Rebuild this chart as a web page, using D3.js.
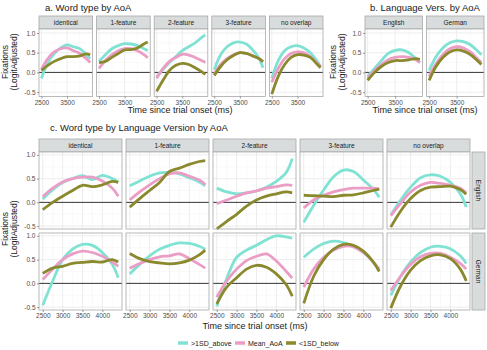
<!DOCTYPE html>
<html>
<head>
<meta charset="utf-8">
<script src="https://cdn.jsdelivr.net/npm/d3@7"></script>
<style>
body { margin: 0; background: #fff; }
svg { display: block; font-family: "Liberation Sans", Arial, sans-serif; }
</style>
</head>
<body>
<svg id="chart" width="487" height="350"></svg>
<script>
// time points (ms) shared by every smoothed curve
const xs = [2500, 2750, 3000, 3250, 3500, 3750, 4000, 4250, 4400];
const seriesNames = [">1SD_above", "Mean_AoA", "<1SD_below"];
const seriesColors = ["#7fe2d3", "#eb9dc5", "#8a892d"];
const wordTypes = ["identical", "1-feature", "2-feature", "3-feature", "no overlap"];
const languages = ["English", "German"];
const yTicks = [-0.5, 0, 0.5, 1.0];

// each array: [>1SD_above, Mean_AoA, <1SD_below]
// a. word type by AoA
const aIdentical = [
  [-0.15, 0.25, 0.48, 0.62, 0.70, 0.65, 0.60, 0.45, 0.35],
  [0.08, 0.35, 0.52, 0.60, 0.62, 0.55, 0.48, 0.35, 0.25],
  [0.05, 0.18, 0.28, 0.35, 0.40, 0.40, 0.42, 0.47, 0.44]];
const a1Feature = [
  [0.28, 0.45, 0.60, 0.68, 0.73, 0.72, 0.68, 0.60, 0.55],
  [0.10, 0.30, 0.45, 0.55, 0.60, 0.60, 0.55, 0.45, 0.37],
  [0.25, 0.28, 0.38, 0.48, 0.57, 0.58, 0.62, 0.72, 0.77]];
const a2Feature = [
  [-0.12, 0.08, 0.25, 0.40, 0.55, 0.65, 0.75, 0.88, 0.95],
  [-0.15, 0.10, 0.28, 0.38, 0.46, 0.44, 0.38, 0.30, 0.25],
  [-0.48, -0.20, 0.05, 0.18, 0.23, 0.20, 0.12, 0.02, -0.05]];
const a3Feature = [
  [0.07, 0.45, 0.65, 0.75, 0.77, 0.72, 0.57, 0.35, 0.12],
  [-0.05, 0.20, 0.35, 0.45, 0.50, 0.48, 0.42, 0.35, 0.27],
  [-0.08, 0.15, 0.32, 0.43, 0.50, 0.48, 0.42, 0.35, 0.27]];
const aNoOverlap = [
  [-0.15, 0.30, 0.55, 0.65, 0.68, 0.62, 0.50, 0.30, 0.15],
  [-0.25, 0.10, 0.35, 0.48, 0.52, 0.50, 0.40, 0.25, 0.15],
  [-0.55, -0.10, 0.20, 0.38, 0.45, 0.44, 0.38, 0.22, 0.12]];

// b. language version by AoA
const bEnglish = [
  [-0.10, 0.10, 0.30, 0.48, 0.56, 0.57, 0.50, 0.35, 0.25],
  [-0.15, 0.05, 0.20, 0.32, 0.38, 0.40, 0.38, 0.32, 0.25],
  [-0.20, 0.00, 0.15, 0.25, 0.30, 0.30, 0.32, 0.35, 0.33]];
const bGerman = [
  [0.05, 0.40, 0.62, 0.75, 0.80, 0.78, 0.70, 0.55, 0.45],
  [-0.10, 0.22, 0.45, 0.60, 0.65, 0.62, 0.52, 0.35, 0.25],
  [-0.20, 0.15, 0.38, 0.52, 0.57, 0.54, 0.45, 0.30, 0.20]];

// c. word type by language version by AoA
const cEnIdentical = [
  [0.07, 0.27, 0.42, 0.50, 0.56, 0.48, 0.57, 0.50, 0.43],
  [0.12, 0.30, 0.43, 0.50, 0.53, 0.53, 0.45, 0.30, 0.13],
  [-0.15, 0.00, 0.13, 0.25, 0.36, 0.33, 0.37, 0.44, 0.42]];
const cEn1Feature = [
  [0.35, 0.45, 0.55, 0.62, 0.63, 0.60, 0.52, 0.43, 0.35],
  [0.05, 0.22, 0.37, 0.50, 0.60, 0.62, 0.55, 0.47, 0.38],
  [-0.10, 0.08, 0.25, 0.42, 0.65, 0.72, 0.80, 0.86, 0.88]];
const cEn2Feature = [
  [0.30, 0.22, 0.18, 0.20, 0.24, 0.32, 0.44, 0.63, 0.92],
  [-0.03, 0.05, 0.13, 0.20, 0.24, 0.30, 0.33, 0.37, 0.36],
  [-0.56, -0.40, -0.25, -0.08, 0.05, 0.13, 0.18, 0.22, 0.20]];
const cEn3Feature = [
  [-0.42, -0.06, 0.26, 0.54, 0.68, 0.65, 0.47, 0.28, 0.11],
  [-0.12, 0.05, 0.15, 0.22, 0.27, 0.30, 0.30, 0.30, 0.28],
  [0.15, 0.14, 0.13, 0.12, 0.15, 0.16, 0.20, 0.25, 0.28]];
const cEnNoOverlap = [
  [-0.27, 0.05, 0.32, 0.52, 0.58, 0.55, 0.42, 0.18, -0.10],
  [-0.28, -0.02, 0.22, 0.36, 0.42, 0.40, 0.36, 0.30, 0.20],
  [-0.52, -0.18, 0.08, 0.25, 0.32, 0.33, 0.34, 0.27, 0.17]];
const cDeIdentical = [
  [-0.46, 0.05, 0.50, 0.72, 0.82, 0.80, 0.65, 0.40, 0.12],
  [0.08, 0.30, 0.50, 0.62, 0.68, 0.65, 0.57, 0.45, 0.36],
  [0.21, 0.32, 0.36, 0.42, 0.44, 0.46, 0.45, 0.50, 0.45]];
const cDe1Feature = [
  [0.20, 0.40, 0.58, 0.72, 0.80, 0.85, 0.84, 0.78, 0.72],
  [0.32, 0.42, 0.50, 0.56, 0.58, 0.62, 0.52, 0.40, 0.32],
  [0.63, 0.52, 0.46, 0.43, 0.41, 0.43, 0.49, 0.60, 0.70]];
const cDe2Feature = [
  [-0.48, 0.10, 0.55, 0.70, 0.80, 0.92, 1.00, 0.98, 0.95],
  [-0.29, 0.05, 0.30, 0.48, 0.57, 0.62, 0.47, 0.25, 0.11],
  [-0.43, -0.08, 0.12, 0.30, 0.38, 0.34, 0.20, -0.03, -0.27]];
const cDe3Feature = [
  [0.55, 0.72, 0.84, 0.89, 0.86, 0.78, 0.65, 0.45, 0.28],
  [-0.08, 0.30, 0.55, 0.70, 0.78, 0.77, 0.65, 0.45, 0.30],
  [-0.42, 0.15, 0.50, 0.72, 0.82, 0.80, 0.68, 0.45, 0.25]];
const cDeNoOverlap = [
  [-0.25, 0.15, 0.45, 0.65, 0.76, 0.78, 0.73, 0.58, 0.42],
  [-0.15, 0.15, 0.40, 0.56, 0.63, 0.63, 0.55, 0.42, 0.30],
  [-0.52, -0.05, 0.28, 0.48, 0.58, 0.60, 0.52, 0.30, 0.05]];

const svg = d3.select("#chart");
const GRID_MAJOR = "#ebebeb", GRID_MINOR = "#f5f5f5", BORDER = "#a9a9a9";
const STRIP_FILL = "#d9dcdc", TICK_TXT = "#4d4d4d";
const fmt = d => d3.format(".1f")(d).replace("−", "-");

const xExt = d3.extent(xs);
const xPad = (xExt[1] - xExt[0]) * 0.05;
const xDomain = [xExt[0] - xPad, xExt[1] + xPad];

function panel(opt) {
  const { x0, y0, w, h, yDomain, xTicks, xMinor, yMinor, data, showX, showY } = opt;
  const xScale = d3.scaleLinear().domain(xDomain).range([x0, x0 + w]);
  const yScale = d3.scaleLinear().domain(yDomain).range([y0 + h, y0]);
  const g = svg.append("g");

  g.append("rect").attr("x", x0).attr("y", y0).attr("width", w).attr("height", h).attr("fill", "#fff");

  // minor grid
  xMinor.forEach(v => g.append("line")
    .attr("x1", xScale(v)).attr("x2", xScale(v)).attr("y1", y0).attr("y2", y0 + h)
    .attr("stroke", GRID_MINOR).attr("stroke-width", 0.6));
  yMinor.forEach(v => g.append("line")
    .attr("x1", x0).attr("x2", x0 + w).attr("y1", yScale(v)).attr("y2", yScale(v))
    .attr("stroke", GRID_MINOR).attr("stroke-width", 0.6));
  // major grid
  xTicks.forEach(v => g.append("line")
    .attr("x1", xScale(v)).attr("x2", xScale(v)).attr("y1", y0).attr("y2", y0 + h)
    .attr("stroke", GRID_MAJOR).attr("stroke-width", 0.9));
  yTicks.forEach(v => g.append("line")
    .attr("x1", x0).attr("x2", x0 + w).attr("y1", yScale(v)).attr("y2", yScale(v))
    .attr("stroke", GRID_MAJOR).attr("stroke-width", 0.9));

  // zero reference line
  g.append("line")
    .attr("x1", x0).attr("x2", x0 + w).attr("y1", yScale(0)).attr("y2", yScale(0))
    .attr("stroke", "#222").attr("stroke-width", 0.9);

  const line = d3.line()
    .x((d, i) => xScale(xs[i]))
    .y(d => yScale(d))
    .curve(d3.curveCatmullRom.alpha(0.5));
  data.forEach((vals, k) => {
    g.append("path").datum(vals)
      .attr("d", line)
      .attr("fill", "none")
      .attr("stroke", seriesColors[k])
      .attr("stroke-width", 2.8);
  });

  g.append("rect").attr("x", x0).attr("y", y0).attr("width", w).attr("height", h)
    .attr("fill", "none").attr("stroke", BORDER).attr("stroke-width", 0.8);

  if (showX) {
    const ax = g.append("g").attr("transform", `translate(0,${y0 + h})`)
      .call(d3.axisBottom(xScale).tickValues(xTicks).tickFormat(d3.format("d"))
        .tickSize(2).tickPadding(1.5));
    ax.select(".domain").remove();
    ax.selectAll("line").attr("stroke", "#555").attr("stroke-width", 0.6);
    ax.selectAll("text").attr("font-size", 6.5).attr("fill", TICK_TXT).attr("font-family", null);
  }
  if (showY) {
    const ay = g.append("g").attr("transform", `translate(${x0},0)`)
      .call(d3.axisLeft(yScale).tickValues(yTicks).tickFormat(fmt).tickSize(2).tickPadding(1.5));
    ay.select(".domain").remove();
    ay.selectAll("line").attr("stroke", "#555").attr("stroke-width", 0.6);
    ay.selectAll("text").attr("font-size", 6.5).attr("fill", TICK_TXT).attr("font-family", null);
  }
}

function strip(x, y, w, h, label, vertical) {
  svg.append("rect").attr("x", x).attr("y", y).attr("width", w).attr("height", h)
    .attr("fill", STRIP_FILL).attr("stroke", BORDER).attr("stroke-width", 0.8);
  const t = svg.append("text").attr("text-anchor", "middle")
    .attr("font-size", 6.5).attr("fill", "#1a1a1a").text(label);
  if (vertical) {
    t.attr("transform", `translate(${x + w / 2},${y + h / 2}) rotate(90)`).attr("dy", "0.35em");
  } else {
    t.attr("x", x + w / 2).attr("y", y + h / 2).attr("dy", "0.35em");
  }
}

function text(x, y, s, size, anchor, rotate) {
  const t = svg.append("text").attr("font-size", size).attr("fill", "#1a1a1a")
    .attr("text-anchor", anchor || "start").text(s);
  if (rotate) t.attr("transform", `translate(${x},${y}) rotate(${rotate})`);
  else t.attr("x", x).attr("y", y);
  return t;
}

function yTitle(x, yc) {
  text(x, yc, "Fixations", 8.5, "middle", -90);
  text(x + 9, yc, "(LogitAdjusted)", 8.5, "middle", -90);
}

// ---- a. Word type by AoA
const aData = [aIdentical, a1Feature, a2Feature, a3Feature, aNoOverlap];
const aTop = 29, aH = 67.5, aW = 53.6, aGap = 4, aLeft = 39;
text(45, 10.5, "a. Word type by AoA", 9.5);
aData.forEach((d, i) => {
  const x0 = aLeft + i * (aW + aGap);
  strip(x0, 16, aW, 13, wordTypes[i]);
  panel({ x0, y0: aTop, w: aW, h: aH, yDomain: [-0.61, 1.10],
    xTicks: [2500, 3500], xMinor: [3000, 4000], yMinor: [-0.25, 0.25, 0.75],
    data: d, showX: true, showY: i === 0 });
});
yTitle(8, 62);
text(180, 113, "Time since trial onset (ms)", 9, "middle");

// ---- b. Language Vers. by AoA
const bData = [bEnglish, bGerman];
const bW = 57.5, bLeft = 365;
text(370, 10.5, "b. Language Vers. by AoA", 9.5);
bData.forEach((d, i) => {
  const x0 = bLeft + i * (bW + 4);
  strip(x0, 16, bW, 13, languages[i]);
  panel({ x0, y0: aTop, w: bW, h: aH, yDomain: [-0.61, 1.10],
    xTicks: [2500, 3500], xMinor: [3000, 4000], yMinor: [-0.25, 0.25, 0.75],
    data: d, showX: true, showY: i === 0 });
});
yTitle(336, 62);
text(425, 113, "Time since trial onset (ms)", 9, "middle");

// ---- c. Word type by Language Version by AoA
const cData = [
  [cEnIdentical, cEn1Feature, cEn2Feature, cEn3Feature, cEnNoOverlap],
  [cDeIdentical, cDe1Feature, cDe2Feature, cDe3Feature, cDeNoOverlap]];
const cLeft = 39, cW = 83, cGap = 4, cH = 77, cRows = [152, 233];
text(50, 131, "c. Word type by Language Version by AoA", 9.5);
wordTypes.forEach((wt, i) => strip(cLeft + i * (cW + cGap), 139, cW, 13, wt));
cData.forEach((row, r) => {
  row.forEach((d, i) => {
    panel({ x0: cLeft + i * (cW + cGap), y0: cRows[r], w: cW, h: cH, yDomain: [-0.56, 1.06],
      xTicks: [2500, 3000, 3500, 4000], xMinor: [2750, 3250, 3750, 4250], yMinor: [-0.25, 0.25, 0.75],
      data: d, showX: r === 1, showY: i === 0 });
  });
  strip(cLeft + 5 * cW + 4 * cGap + 2, cRows[r], 13, cH, languages[r], true);
});
yTitle(8, 229);
text(255, 329, "Time since trial onset (ms)", 9, "middle");

// ---- legend
const legX = [178, 235, 286];
seriesNames.forEach((name, k) => {
  svg.append("line").attr("x1", legX[k]).attr("x2", legX[k] + 10)
    .attr("y1", 343).attr("y2", 343)
    .attr("stroke", seriesColors[k]).attr("stroke-width", 3.5);
  text(legX[k] + 13, 345.5, name, 7);
});
</script>
</body>
</html>
